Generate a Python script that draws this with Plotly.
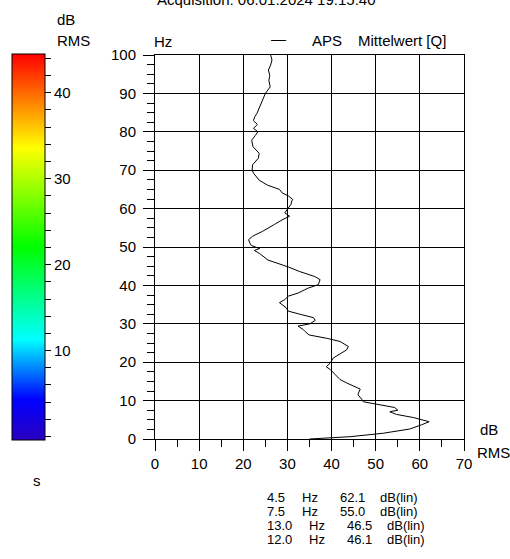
import plotly.graph_objects as go

# ---- data ----
freq_hz = [0.0, 0.6, 1.5, 2.6, 3.7, 4.5, 5.6, 6.4, 7.1, 7.5, 8.2, 8.9, 9.7, 10.4,
           11.5, 12.0, 13.0, 14.6, 15.5, 16.8, 18.1, 18.8, 19.8, 21.1, 22.2, 23.2,
           24.1, 25.4, 26.2, 27.1, 28.0, 28.5, 29.4, 30.0, 30.9, 31.6, 32.5, 33.3,
           34.2, 34.9, 35.5, 36.3, 37.2, 38.0, 39.3, 40.2, 41.5, 42.3, 43.6, 44.8,
           45.7, 46.6, 48.3, 49.1, 49.6, 50.4, 51.0, 51.9, 52.8, 54.1, 55.9, 57.2,
           58.0, 58.9, 60.0, 61.1, 62.0, 62.4, 63.3, 64.1, 65.0, 66.1, 67.4, 69.1,
           70.0, 71.4, 73.1, 74.4, 76.1, 77.8, 79.0, 80.0, 80.9, 81.9, 82.9, 83.9,
           84.8, 86.8, 88.5, 90.0, 91.7, 93.4, 94.7, 96.1, 97.4, 98.7, 100.0]
amp_db = [35.0, 44.2, 51.7, 57.7, 60.4, 62.1, 58.5, 54.7, 53.2, 55.0, 54.3, 50.9, 47.2, 46.8,
          46.0, 46.1, 46.5, 43.4, 41.9, 40.8, 39.7, 38.8, 39.7, 40.4, 41.9, 43.4,
          43.8, 41.9, 39.0, 34.9, 34.0, 33.6, 32.4, 35.1, 36.3, 35.9, 32.8, 30.2,
          29.7, 29.0, 28.2, 29.4, 30.2, 32.4, 34.7, 37.0, 37.4, 36.2, 32.8, 30.2,
          27.9, 25.6, 23.7, 22.5, 23.7, 21.8, 21.5, 21.2, 22.1, 24.4, 27.1, 29.0,
          30.5, 29.4, 30.1, 30.8, 31.0, 31.2, 30.2, 28.8, 28.2, 25.5, 23.6, 22.4,
          22.0, 22.1, 23.4, 23.6, 22.2, 21.9, 22.7, 23.3, 22.3, 23.2, 22.3, 22.6,
          23.1, 23.8, 24.4, 25.0, 26.1, 25.8, 26.0, 25.7, 26.2, 26.5, 26.2]

x_tick_vals = [0, 10, 20, 30, 40, 50, 60, 70]
y_tick_vals = [0, 10, 20, 30, 40, 50, 60, 70, 80, 90, 100]
cbar_tick_vals = [0, 2, 4, 6, 8, 10, 12, 14, 16, 18, 20, 22, 24, 26, 28, 30,
                  32, 34, 36, 38, 40, 42, 44]
cbar_tick_text = ["", "", "", "", "", "10", "", "", "", "", "20", "", "", "", "", "30",
                  "", "", "", "", "40", "", ""]
cbar_min, cbar_max = -0.4, 44.5

peak_freqs = ["4.5", "7.5", "13.0", "12.0"]
peak_units = ["Hz", "Hz", "Hz", "Hz"]
peak_levels = ["62.1", "55.0", "46.5", "46.1"]
peak_level_units = ["dB(lin)", "dB(lin)", "dB(lin)", "dB(lin)"]

title_text = "Acquisition: 06.01.2024 19:15:40"
legend_name = "APS"
legend_desc = "Mittelwert [Q]"

# ---- layout geometry (pixels) ----
W, H = 510, 559
L, R, T, B = 153, 464, 55, 439
FONT = "Liberation Sans, Arial, sans-serif"


def px(x):
    return (x - L) / (R - L)


def py(y):
    return (B - y) / (B - T)


fig = go.Figure()

fig.add_trace(go.Scatter(
    x=amp_db, y=freq_hz, mode="lines",
    line=dict(color="black", width=1), showlegend=False, hoverinfo="skip"))

# colorbar host
fig.add_trace(go.Scatter(
    x=[None], y=[None], mode="markers", showlegend=False, hoverinfo="skip",
    marker=dict(
        color=[cbar_min], cmin=cbar_min, cmax=cbar_max,
        colorscale=[[0.0, "#2a00c0"], [0.105, "#0000ff"], [0.26, "#00ffff"],
                    [0.50, "#00ff00"], [0.757, "#ffff00"], [0.877, "#ff8000"],
                    [1.0, "#ff0000"]],
        showscale=True,
        colorbar=dict(
            x=px(9), xanchor="left", y=py(54), yanchor="top",
            len=386, lenmode="pixels", thickness=33, thicknessmode="pixels",
            xpad=0, ypad=0, outlinewidth=1, outlinecolor="black",
            tickmode="array", tickvals=cbar_tick_vals, ticktext=cbar_tick_text,
            ticks="outside", ticklen=6, tickcolor="black", tickwidth=1,
            tickfont=dict(family=FONT, size=15, color="black"),
        ),
    ),
))

fig.update_xaxes(
    range=[0, 70], tickmode="array", tickvals=x_tick_vals,
    showgrid=True, gridcolor="black", gridwidth=1,
    showline=True, linecolor="black", linewidth=1, mirror=True,
    ticks="outside", ticklen=11, tickcolor="black",
    minor=dict(dtick=5, ticks="outside", ticklen=7, tickcolor="black", showgrid=False),
    tickfont=dict(family=FONT, size=15, color="black"), zeroline=False,
)
fig.update_yaxes(
    range=[0, 100], tickmode="array", tickvals=y_tick_vals,
    showgrid=True, gridcolor="black", gridwidth=1,
    showline=True, linecolor="black", linewidth=1, mirror=True,
    ticks="outside", ticklen=11, tickcolor="black",
    minor=dict(dtick=2.5, ticks="outside", ticklen=7, tickcolor="black", showgrid=False),
    tickfont=dict(family=FONT, size=15, color="black"), zeroline=False,
    ticklabelstandoff=4,
)


def label(text, x, y, size=15, anchor="left"):
    fig.add_annotation(text=text, x=px(x), y=py(y), xref="paper", yref="paper",
                       xanchor=anchor, yanchor="middle", showarrow=False,
                       font=dict(family=FONT, size=size, color="black"))


label(title_text, 265, 0, anchor="center")
label("dB", 52, 19)
label("RMS", 52, 40)
label("Hz", 150, 42)
label("\u2014", 268, 38)
label(legend_name, 309, 40)
label(legend_desc, 355, 40)
label("dB", 478, 429)
label("RMS", 475, 452)
label("s", 28, 480)

row_y = [497, 511, 525, 539]
for i in range(4):
    wide = len(peak_freqs[i]) > 3
    off = 7 if wide else 0
    label(peak_freqs[i], 264, row_y[i], size=13)
    label(peak_units[i], 299 + off, row_y[i], size=13)
    label(peak_levels[i], 337 + off, row_y[i], size=13)
    label(peak_level_units[i], 377 + off, row_y[i], size=13)

fig.update_layout(
    width=W, height=H,
    margin=dict(l=L, r=W - R, t=T, b=H - B, pad=0),
    paper_bgcolor="white", plot_bgcolor="white",
    font=dict(family=FONT, size=15, color="black"),
    showlegend=False,
)

fig.write_html(
    "out.html",
    config={"displayModeBar": False, "staticPlot": True},
    post_script="document.body.style.margin='0';document.body.style.padding='0';"
                "document.body.style.overflow='hidden';",
)
